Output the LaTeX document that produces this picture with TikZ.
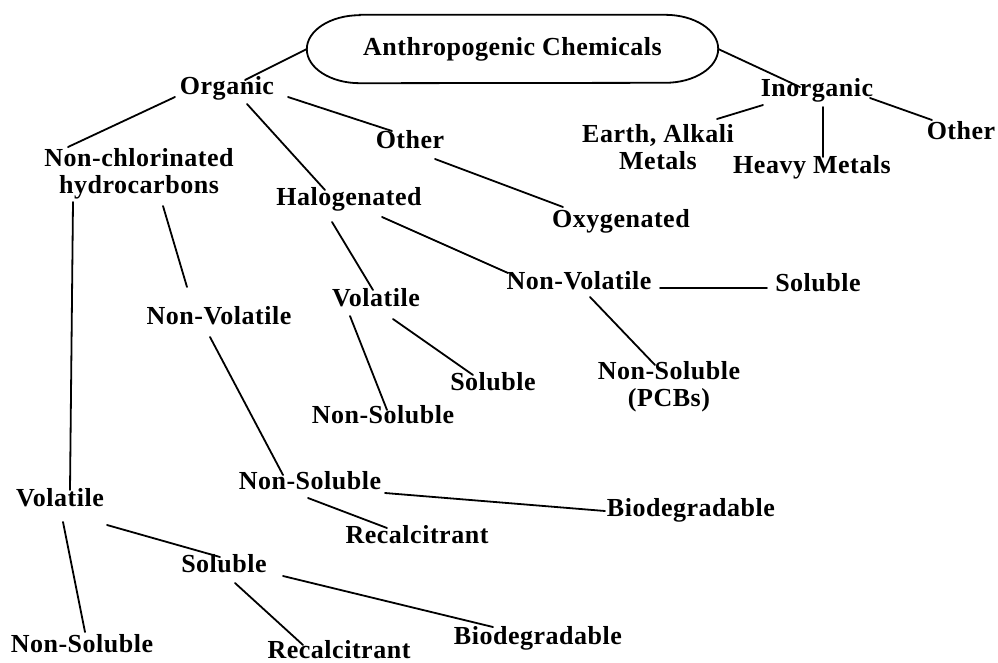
\documentclass[tikz,border=0pt]{standalone}
\usepackage{fontspec}
\setmainfont{Liberation Serif}[LetterSpace=2.0]
\usetikzlibrary{calc}
\begin{document}
\begin{tikzpicture}[x=1pt,y=1pt,
  lblfont/.style={font=\fontsize{26}{27}\selectfont\bfseries, inner sep=0pt},
  lbl/.style={lblfont, text height=17pt, text depth=5pt},
  lbltwo/.style={lblfont, align=center},
  ln/.style={line width=1.8pt, line cap=round}]
\useasboundingbox (0,0) rectangle (998,-662);
% root
\node[lblfont, minimum width=411pt, minimum height=68pt] (root) at (512.5,-49) {\raisebox{6pt}{Anthropogenic Chemicals}};
\draw[ln] ([xshift=53pt]root.north west) -- ([xshift=-53pt]root.north east)
  arc[start angle=90, end angle=-90, x radius=53pt, y radius=34pt]
  -- ([xshift=53pt]root.south west)
  arc[start angle=270, end angle=90, x radius=53pt, y radius=34pt] -- cycle;
% nodes
\node[lbl] (org) at (227,-88) {Organic};
\node[lbltwo] (nch) at (139,-174) {Non-chlorinated\\hydrocarbons};
\node[lbl] (oth1) at (410,-142) {Other};
\node[lbl] (hal) at (349,-199) {Halogenated};
\node[lbl] (oxy) at (621,-221) {Oxygenated};
\node[lbl] (inorg) at (817,-90) {Inorganic};
\node[lbltwo] (earth) at (658,-147) {Earth, Alkali\\Metals};
\node[lbl] (heavy) at (812,-167) {Heavy Metals};
\node[lbl] (oth2) at (961,-133) {Other};
\node[lbl] (nvl) at (219,-318) {Non-Volatile};
\node[lbl] (nsm) at (310,-483) {Non-Soluble};
\node[lbl] (rec1) at (417,-537) {Recalcitrant};
\node[lbl] (bio1) at (691,-510) {Biodegradable};
\node[lbl] (vol1) at (60,-500) {Volatile};
\node[lbl] (nsb) at (82,-646) {Non-Soluble};
\node[lbl] (sol1) at (224,-566) {Soluble};
\node[lbl] (rec2) at (339,-652) {Recalcitrant};
\node[lbl] (bio2) at (538,-638) {Biodegradable};
\node[lbl] (vol2) at (376,-300) {Volatile};
\node[lbl] (nvr) at (579,-283) {Non-Volatile};
\node[lbl] (ns2) at (383,-417) {Non-Soluble};
\node[lbl] (sol2) at (493,-384) {Soluble};
\node[lbl] (sol3) at (818,-285) {Soluble};
\node[lbltwo] (pcb) at (669,-387) {Non-Soluble\\(PCBs)};
% connectors
\draw[ln] (root.west) -- ($(org)+(18,8)$);
\draw[ln] (root.east) -- ($(inorg)+(-17,3)$);
\draw[ln] ($(org)+(-52,-9)$) -- ($(nch)+(-71,27)$);
\draw[ln] ($(org)+(20,-16)$) -- ($(hal)+(-24,9)$);
\draw[ln] ($(org)+(61,-9)$) -- ($(oth1)+(-18,11)$);
\draw[ln] ($(oth1)+(25,-17)$) -- ($(oxy)+(-58,14)$);
\draw[ln] ($(inorg)+(-54,-15)$) -- ($(earth)+(59,28)$);
\draw[ln] ($(inorg)+(6,-17)$) -- ($(heavy)+(11,10)$);
\draw[ln] ($(inorg)+(53,-8)$) -- ($(oth2)+(-29,13)$);
\draw[ln] ($(nch)+(-66,-28)$) -- ($(vol1)+(10,10)$);
\draw[ln] ($(nch)+(24,-32)$) -- ($(nvl)+(-32,31)$);
\draw[ln] ($(nvl)+(-9,-19)$) -- ($(nsm)+(-27,8)$);
\draw[ln] ($(nsm)+(-2,-15)$) -- ($(rec1)+(-30,9)$);
\draw[ln] ($(nsm)+(75,-10)$) -- ($(bio1)+(-86,-1)$);
\draw[ln] ($(vol1)+(3,-22)$) -- ($(nsb)+(3,14)$);
\draw[ln] ($(vol1)+(47,-25)$) -- ($(sol1)+(-4,9)$);
\draw[ln] ($(sol1)+(11,-17)$) -- ($(rec2)+(-36,7)$);
\draw[ln] ($(sol1)+(59,-10)$) -- ($(bio2)+(-45,11)$);
\draw[ln] ($(hal)+(-17,-23)$) -- ($(vol2)+(-3,10)$);
\draw[ln] ($(hal)+(33,-18)$) -- ($(nvr)+(-71,10)$);
\draw[ln] ($(vol2)+(-26,-16)$) -- ($(ns2)+(4,7)$);
\draw[ln] ($(vol2)+(17,-19)$) -- ($(sol2)+(-20,9)$);
\draw[ln] ($(nvr)+(81,-5)$) -- ($(sol3)+(-51,-3)$);
\draw[ln] ($(nvr)+(11,-14)$) -- ($(pcb)+(-14,22)$);
\end{tikzpicture}
\end{document}
